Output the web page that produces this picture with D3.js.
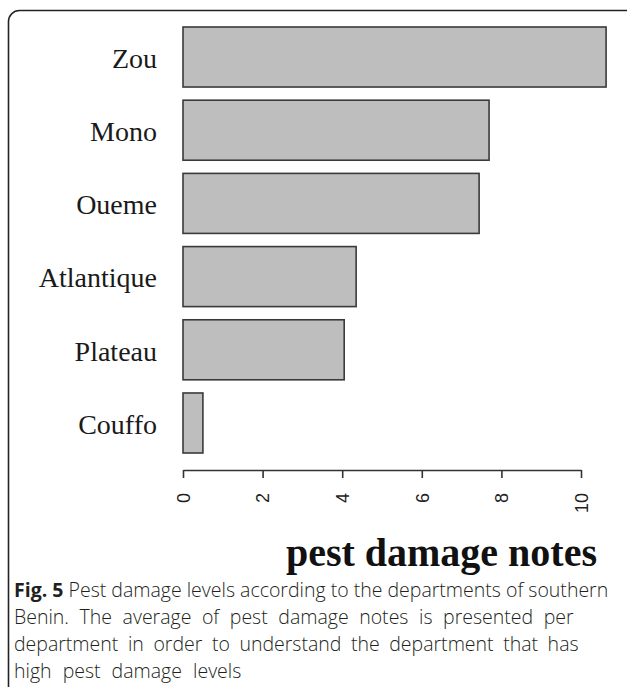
<!DOCTYPE html>
<html>
<head>
<meta charset="utf-8">
<script src="https://cdn.jsdelivr.net/npm/d3@7"></script>
<style>
  body { margin: 0; background: #fff; }
  svg { display: block; }
  .cap { font-family: "Open Sans", sans-serif; font-size: 19.5px; fill: #231f20; font-weight: 300; }
</style>
</head>
<body>
<div id="chart"></div>
<script>
"use strict";

// departments, top to bottom
var departments = ["Zou", "Mono", "Oueme", "Atlantique", "Plateau", "Couffo"];
// mean pest damage notes
var damage = [10.63, 7.69, 7.44, 4.35, 4.05, 0.50];
var tickValues = [0, 2, 4, 6, 8, 10];
var captionLines = [
    "Pest damage levels according to the departments of southern",
    "Benin. The average of pest damage notes is presented per",
    "department in order to understand the department that has",
    "high pest damage levels"
];
// the caption is set justified, so the word gaps differ per line
var captionWordGap = [0, 5.5, 4.5, 6];

var width = 627, height = 687;

var svg = d3.select("#chart").append("svg")
    .attr("width", width)
    .attr("height", height);

// frame round the figure
svg.append("rect")
    .attr("x", 8.5).attr("y", 10.5)
    .attr("width", 630).attr("height", 700)
    .attr("rx", 11).attr("ry", 11)
    .attr("fill", "none")
    .attr("stroke", "#222")
    .attr("stroke-width", 1.6);

var x = d3.scaleLinear().domain([0, 10]).range([183, 581]);
var y = d3.scaleBand().domain(departments).range([27, 453]).paddingInner(0.18);

var data = departments.map(function(d, i) { return { name: d, value: damage[i] }; });

svg.selectAll(".bar")
    .data(data)
    .enter().append("rect")
    .attr("class", "bar")
    .attr("x", x(0))
    .attr("y", function(d) { return y(d.name); })
    .attr("width", function(d) { return x(d.value) - x(0); })
    .attr("height", y.bandwidth())
    .attr("fill", "#bebebe")
    .attr("stroke", "#3a3a3a")
    .attr("stroke-width", 1.6);

svg.selectAll(".cat")
    .data(data)
    .enter().append("text")
    .attr("class", "cat")
    .attr("x", 157)
    .attr("y", function(d) { return y(d.name) + y.bandwidth() / 2 + 1; })
    .attr("dy", "0.35em")
    .attr("text-anchor", "end")
    .style("font-family", "'Liberation Serif', 'Times New Roman', serif")
    .style("font-size", "28px")
    .style("fill", "#1a1a1a")
    .text(function(d) { return d.name; });

var axis = svg.append("g")
    .attr("transform", "translate(0,470)")
    .call(d3.axisBottom(x).tickValues(tickValues).tickSize(8).tickSizeOuter(0).tickPadding(0));

axis.select(".domain").attr("stroke", "#333").attr("stroke-width", 1.6);
axis.selectAll(".tick line").attr("stroke", "#333").attr("stroke-width", 1.6);
axis.selectAll(".tick text")
    .attr("transform", "translate(0,23) rotate(-90)")
    .attr("x", 0).attr("y", 0)
    .attr("dy", "0.35em")
    .attr("text-anchor", "end")
    .style("font-family", "'Liberation Sans', Arial, sans-serif")
    .style("font-size", "18px")
    .style("fill", "#222");

svg.append("text")
    .attr("x", 597)
    .attr("y", 566)
    .attr("text-anchor", "end")
    .style("font-family", "'Liberation Serif', 'Times New Roman', serif")
    .style("font-weight", "bold")
    .style("font-size", "40px")
    .style("fill", "#111")
    .text("pest damage notes");

// caption
var cap = svg.append("g");
captionLines.forEach(function(line, i) {
    var t = cap.append("text")
        .attr("class", "cap")
        .attr("x", 14)
        .attr("y", 597 + i * 27)
        .style("word-spacing", captionWordGap[i] + "px");
    if (i === 0) {
        t.append("tspan").style("font-weight", "bold").text("Fig. 5");
        t.append("tspan").text(" " + line);
    } else {
        t.text(line);
    }
});
</script>
</body>
</html>
